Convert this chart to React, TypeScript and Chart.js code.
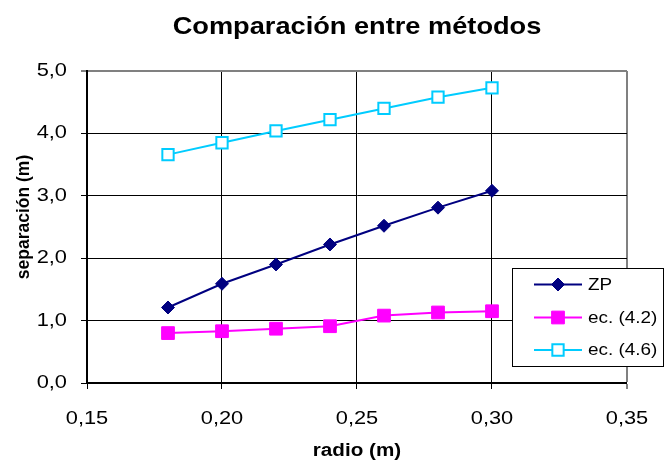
import React, { useEffect, useRef } from 'react';
import { Chart, registerables } from 'chart.js';

Chart.register(...registerables);

// ---- data ----
const radios = [0.18, 0.2, 0.22, 0.24, 0.26, 0.28, 0.3];
const zpValues = [1.21, 1.59, 1.9, 2.22, 2.52, 2.81, 3.08];
const ec42Values = [0.8, 0.83, 0.87, 0.91, 1.08, 1.13, 1.15];
const ec46Values = [3.66, 3.85, 4.04, 4.22, 4.4, 4.58, 4.73];
const seriesLabels = ['ZP', 'ec. (4.2)', 'ec. (4.6)'];
const xTicks = [0.15, 0.2, 0.25, 0.3, 0.35];
const yTicks = [0, 1, 2, 3, 4, 5];
const titleText = 'Comparación entre métodos';
const xTitle = 'radio (m)';
const yTitle = 'separación (m)';

const FAMILY = '"Liberation Sans", Arial, Helvetica, sans-serif';
const STRETCH = 1.18;

const toPoints = (vals: number[]) => radios.map((r, i) => ({ x: r, y: vals[i] }));

const stretchPlugin = {
  id: 'stretchText',
  beforeInit(chart: any) {
    const ctx = chart.ctx as any;
    if (ctx.__wrapped) return;
    ctx.__wrapped = true;
    const orig = ctx.fillText;
    ctx.fillText = function (text: string, x: number, y: number) {
      const t = this.getTransform();
      if (Math.abs(t.b) > 1e-6 || Math.abs(t.c) > 1e-6) {
        return orig.call(this, text, x, y);
      }
      const sx = typeof this.__sx === 'number' ? this.__sx : STRETCH;
      this.save();
      this.translate(x, y);
      this.scale(sx, 1);
      orig.call(this, text, 0, 0);
      this.restore();
    };
  },
};

function drawMarker(ctx: CanvasRenderingContext2D, ds: any, x: number, y: number) {
  const r = ds.pointRadius;
  ctx.beginPath();
  if (ds.pointStyle === 'rectRot') {
    ctx.moveTo(x - r, y);
    ctx.lineTo(x, y - r);
    ctx.lineTo(x + r, y);
    ctx.lineTo(x, y + r);
    ctx.closePath();
  } else {
    const h = r * Math.SQRT1_2;
    ctx.rect(x - h, y - h, 2 * h, 2 * h);
  }
  ctx.fillStyle = ds.pointBackgroundColor;
  ctx.fill();
  ctx.strokeStyle = ds.pointBorderColor;
  ctx.lineWidth = ds.pointBorderWidth;
  ctx.stroke();
}

const boxLegend = {
  id: 'boxLegend',
  afterDraw(chart: any) {
    const ctx: CanvasRenderingContext2D = chart.ctx;
    const left = 512.5;
    const top = 268.5;
    const right = 663.5;
    const bottom = 366.5;
    ctx.save();
    ctx.fillStyle = '#ffffff';
    ctx.fillRect(left, top, right - left, bottom - top);
    ctx.strokeStyle = '#000000';
    ctx.lineWidth = 1;
    ctx.strokeRect(left, top, right - left, bottom - top);
    const rows = [284.5, 317.5, 350];
    chart.data.datasets.forEach((ds: any, i: number) => {
      const y = rows[i];
      ctx.strokeStyle = ds.borderColor;
      ctx.lineWidth = ds.borderWidth;
      ctx.beginPath();
      ctx.moveTo(534, y);
      ctx.lineTo(582, y);
      ctx.stroke();
      drawMarker(ctx, ds, 558, y);
      ctx.fillStyle = '#000000';
      ctx.font = `16px ${FAMILY}`;
      ctx.textAlign = 'left';
      ctx.textBaseline = 'middle';
      ctx.fillText(ds.label, 588, y + 1);
    });
    ctx.restore();
  },
};

const textPlugin = {
  id: 'extraText',
  afterDraw(chart: any) {
    const ctx: any = chart.ctx;
    const area = chart.chartArea;
    // chart title, centred over the plot area
    ctx.save();
    ctx.font = `bold 24.5px ${FAMILY}`;
    ctx.fillStyle = '#000000';
    ctx.textAlign = 'center';
    ctx.textBaseline = 'middle';
    ctx.__sx = 1.11;
    ctx.fillText(titleText, (area.left + area.right) / 2, 27);
    ctx.__sx = undefined;
    ctx.restore();
    // y axis title
    ctx.save();
    ctx.translate(24, 217);
    ctx.rotate(-Math.PI / 2);
    ctx.font = `bold 17.5px ${FAMILY}`;
    ctx.fillStyle = '#000000';
    ctx.textAlign = 'center';
    ctx.textBaseline = 'middle';
    ctx.fillText(yTitle, 0, 0);
    ctx.restore();
  },
};

const fmt = (v: number, d: number) => Number(v).toFixed(d).replace('.', ',');

export default function App() {
  const ref = useRef<HTMLCanvasElement>(null);
  useEffect(() => {
    const canvas = ref.current;
    if (!canvas) return;
    const chart = new Chart(canvas, {
      type: 'line',
      data: {
        datasets: [
          {
            label: seriesLabels[0],
            data: toPoints(zpValues),
            borderColor: '#000080',
            backgroundColor: '#000080',
            borderWidth: 2,
            pointStyle: 'rectRot',
            pointRadius: 6.5,
            pointBackgroundColor: '#000080',
            pointBorderColor: '#000080',
            pointBorderWidth: 1,
            tension: 0,
            fill: false,
          },
          {
            label: seriesLabels[1],
            data: toPoints(ec42Values),
            borderColor: '#FF00FF',
            backgroundColor: '#FF00FF',
            borderWidth: 2,
            pointStyle: 'rect',
            pointRadius: 9,
            pointBackgroundColor: '#FF00FF',
            pointBorderColor: '#FF00FF',
            pointBorderWidth: 1,
            tension: 0,
            fill: false,
          },
          {
            label: seriesLabels[2],
            data: toPoints(ec46Values),
            borderColor: '#00CCFF',
            backgroundColor: '#00CCFF',
            borderWidth: 2,
            pointStyle: 'rect',
            pointRadius: 8,
            pointBackgroundColor: '#FFFFFF',
            pointBorderColor: '#00CCFF',
            pointBorderWidth: 2,
            tension: 0,
            fill: false,
          },
        ] as any,
      },
      options: {
        animation: false,
        responsive: false,
        events: [],
        layout: { padding: { left: 0, right: 35, top: 71, bottom: 0 } },
        plugins: {
          legend: { display: false },
          tooltip: { enabled: false },
          title: { display: false },
        },
        scales: {
          x: {
            type: 'linear',
            min: xTicks[0],
            max: xTicks[xTicks.length - 1],
            afterBuildTicks: (s: any) => {
              s.ticks = xTicks.map((v) => ({ value: v }));
            },
            afterFit: (s: any) => {
              s.height = 81;
            },
            ticks: {
              callback: (v: any) => fmt(v, 2),
              color: '#000000',
              font: { size: 18.5, family: FAMILY },
              padding: 19,
              maxRotation: 0,
              autoSkip: false,
            },
            grid: {
              color: (c: any) => (c.index === xTicks.length - 1 ? '#808080' : '#000000'),
              lineWidth: (c: any) => (c.index === xTicks.length - 1 ? 2 : 1),
              tickLength: 6,
              drawTicks: true,
            },
            border: { color: '#000000', width: 2 },
            title: {
              display: true,
              text: xTitle,
              color: '#000000',
              font: { size: 17.5, weight: 'bold', family: FAMILY },
              padding: { top: 0, bottom: 2 },
            },
          },
          y: {
            type: 'linear',
            min: yTicks[0],
            max: yTicks[yTicks.length - 1],
            afterBuildTicks: (s: any) => {
              s.ticks = yTicks.map((v) => ({ value: v }));
            },
            afterFit: (s: any) => {
              s.width = 87;
            },
            ticks: {
              callback: (v: any) => fmt(v, 1),
              color: '#000000',
              font: { size: 18.5, family: FAMILY },
              padding: 14,
              autoSkip: false,
            },
            grid: {
              color: (c: any) => (c.index === yTicks.length - 1 ? '#808080' : '#000000'),
              lineWidth: (c: any) => (c.index === yTicks.length - 1 ? 2 : 1),
              tickLength: 6,
              drawTicks: true,
            },
            border: { color: '#000000', width: 2 },
            title: { display: false },
          },
        },
      } as any,
      plugins: [stretchPlugin, boxLegend, textPlugin] as any,
    });
    return () => chart.destroy();
  }, []);
  return (
    <div style={{ position: 'fixed', left: 0, top: 0, width: 664, height: 464, background: '#ffffff' }}>
      <canvas ref={ref} width={664} height={464} style={{ display: 'block', width: 664, height: 464 }} />
    </div>
  );
}
